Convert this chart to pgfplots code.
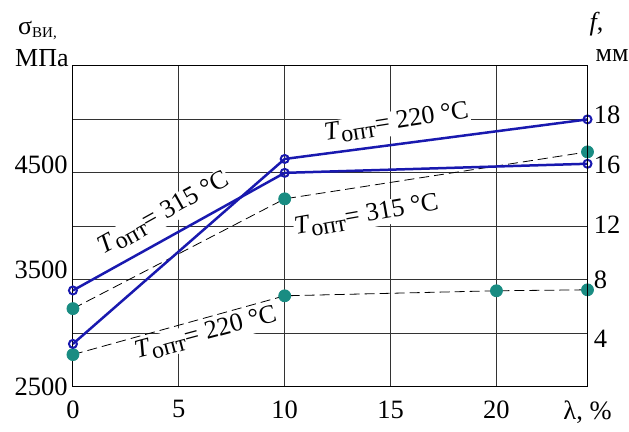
\documentclass[border=0pt]{standalone}
\usepackage{fontspec}
\setmainfont{Liberation Serif}
\usepackage{pgfplots}
\pgfplotsset{compat=1.18}
\definecolor{lineblue}{RGB}{25,25,175}
\definecolor{tealm}{RGB}{25,140,130}
\newcommand{\lab}[1]{\textit{T}\raisebox{-5pt}{\fontsize{24}{26}\selectfont опт}= #1 °C}
\begin{document}
\begin{tikzpicture}
\fontsize{26}{30}\selectfont
\begin{axis}[
  at={(73pt,32pt)}, anchor=south west,
  scale only axis, width=515pt, height=321pt,
  xmin=0, xmax=24.3, ymin=2500, ymax=5500,
  xtick={0,5,10,15,20,24.3},
  xticklabels={0,5,10,15,20,{λ, \%}},
  ytick={2500,3000,3500,4000,4500,5000,5500},
  yticklabels={\raisebox{-8.5pt}{2500},,\raisebox{1.5pt}{3500},,\raisebox{-0.5pt}{4500},,},
  grid=major,
  major grid style={black!80, line width=0.9pt},
  axis line style={black, line width=1pt},
  major tick length=0pt,
  tick label style={font=\fontsize{26.5}{29}\selectfont},
  xticklabel style={yshift=-5pt},
  yticklabel style={anchor=base east, xshift=3.5pt},
  clip=false,
]
\node[fill=white, inner sep=1pt, rotate=29] at (axis cs:4.29,4117) {\lab{315}};
\node[fill=white, inner sep=1pt, rotate=9] at (axis cs:15.29,4967) {\lab{220}};
\node[fill=white, inner sep=1pt, rotate=10] at (axis cs:13.87,4098) {\lab{315}};
\node[fill=white, inner sep=1pt, rotate=15] at (axis cs:6.28,2995) {\lab{220}};
\addplot[black, line width=0.8pt, dash pattern=on 10pt off 5pt, mark=*, mark size=6pt,
  mark options={solid, fill=tealm, draw=tealm}] coordinates {(0,3230)(10,4257)(24.3,4696)};
\addplot[black, line width=0.8pt, dash pattern=on 10pt off 5pt, mark=*, mark size=6pt,
  mark options={solid, fill=tealm, draw=tealm}] coordinates {(0,2800)(10,3350)(20,3397)(24.3,3406)};
\addplot[lineblue, line width=2.5pt, mark=o, mark size=4pt, mark options={line width=2pt}]
  coordinates {(0,3400)(10,4500)(24.3,4585)};
\addplot[lineblue, line width=2.5pt, mark=o, mark size=4pt, mark options={line width=2pt}]
  coordinates {(0,2900)(10,4630)(24.3,5000)};
\end{axis}
\begin{axis}[
  at={(73pt,32pt)}, anchor=south west,
  scale only axis, width=515pt, height=321pt,
  xmin=0, xmax=24.3, ymin=0, ymax=6,
  axis x line=none, axis y line*=right,
  ytick={1,2,3,4,5},
  yticklabels={\raisebox{-14pt}{4},\raisebox{-8.5pt}{8},\raisebox{-7.5pt}{12},\raisebox{-0.5pt}{16},\raisebox{-4.5pt}{18}},
  axis line style={black, line width=1pt},
  major tick length=0pt,
  tick label style={font=\fontsize{26.5}{29}\selectfont},
  yticklabel style={anchor=base west, xshift=-2.5pt},
]
\end{axis}
\node[anchor=base west, inner sep=0] at (18pt,384pt) {σ\raisebox{-3pt}{\fontsize{15}{18}\selectfont ВИ,}};
\node[anchor=base west, inner sep=0] at (15pt,352pt) {МПа};
\node[anchor=base west, inner sep=0] at (590pt,388pt) {\textit{f},};
\node[anchor=base west, inner sep=0] at (596pt,357pt) {мм};
\useasboundingbox (0,0) rectangle (629pt,419pt);
\end{tikzpicture}
\end{document}
